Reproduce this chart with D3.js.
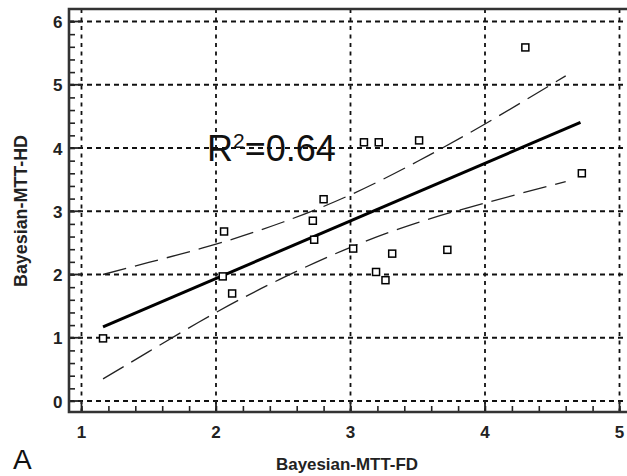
<!DOCTYPE html>
<html>
<head>
<meta charset="utf-8">
<script src="https://cdn.jsdelivr.net/npm/d3@7"></script>
<style>
  html, body { margin: 0; padding: 0; background: #fff; }
  svg { display: block; }
</style>
</head>
<body>
<svg id="chart" width="627" height="476"></svg>
<script>
// Bayesian MTT: full-dose (FD) vs half-dose (HD) estimates
const fdValues = [1.16, 2.05, 2.12, 2.06, 2.73, 2.72, 2.80, 3.10, 3.21, 3.51, 4.30, 4.72, 3.02, 3.31, 3.72, 3.19, 3.26];
const hdValues = [0.99, 1.97, 1.70, 2.68, 2.55, 2.85, 3.19, 4.09, 4.09, 4.12, 5.59, 3.60, 2.41, 2.33, 2.39, 2.04, 1.91];

// Linear fit (intercept, slope) and the x span it is drawn over
const fitCoef = [0.118, 0.910];
const fitRange = [1.16, 4.71];

// 95% confidence band of the fit
const bandX     = [1.16, 1.5, 2.0, 2.5, 3.0, 3.5, 4.0, 4.6];
const bandUpper = [2.00, 2.19, 2.48, 2.83, 3.26, 3.79, 4.38, 5.14];
const bandLower = [0.35, 0.78, 1.40, 1.95, 2.43, 2.82, 3.13, 3.47];

const xTicks = [1, 2, 3, 4, 5];
const yTicks = [0, 1, 2, 3, 4, 5, 6];
const xTitle = "Bayesian-MTT-FD";
const yTitle = "Bayesian-MTT-HD";
const panelLabel = "A";
const r2Value = "0.64";

const svg = d3.select("#chart");

// plot frame
const frame = { left: 69, right: 628, top: 9, bottom: 412 };

const x = d3.scaleLinear().domain([1, 5]).range([81.5, 619.5]);
const y = d3.scaleLinear().domain([0, 6]).range([401, 21.5]);

const ink = "#111";

// grid lines
const grid = svg.append("g");
grid.selectAll("line.hg").data(yTicks).join("line")
  .attr("x1", frame.left).attr("x2", frame.right)
  .attr("y1", d => y(d)).attr("y2", d => y(d))
  .attr("stroke", ink).attr("stroke-width", 1.8)
  .attr("stroke-dasharray", "5,4");
grid.selectAll("line.vg").data(xTicks).join("line")
  .attr("y1", frame.top).attr("y2", frame.bottom)
  .attr("x1", d => x(d)).attr("x2", d => x(d))
  .attr("stroke", ink).attr("stroke-width", 1.8)
  .attr("stroke-dasharray", "4,4.5");

// axes with inward ticks
const xMinor = d3.range(1, 5.0001, 0.2);
const yMinor = d3.range(0, 6.0001, 0.2);

const xAxis = d3.axisBottom(x).tickValues(xMinor).tickSize(-6).tickFormat("");
const yAxis = d3.axisLeft(y).tickValues(yMinor).tickSize(-6).tickFormat("");

const gx = svg.append("g").attr("transform", `translate(0,${frame.bottom})`).call(xAxis);
const gy = svg.append("g").attr("transform", `translate(${frame.left},0)`).call(yAxis);
[gx, gy].forEach(g => {
  g.select(".domain").remove();
  g.selectAll(".tick line").attr("stroke", "#222").attr("stroke-width", 1.6);
});

// major ticks (solid, longer)
svg.append("g").selectAll("line").data(xTicks).join("line")
  .attr("x1", d => x(d)).attr("x2", d => x(d))
  .attr("y1", frame.bottom).attr("y2", y(0))
  .attr("stroke", "#222").attr("stroke-width", 1.8);
svg.append("g").selectAll("line").data(yTicks).join("line")
  .attr("x1", frame.left).attr("x2", x(1))
  .attr("y1", d => y(d)).attr("y2", d => y(d))
  .attr("stroke", "#222").attr("stroke-width", 1.8);

// frame
svg.append("path")
  .attr("d", `M${frame.right},${frame.top}H${frame.left}V${frame.bottom}H${frame.right}`)
  .attr("fill", "none").attr("stroke", "#333").attr("stroke-width", 2.6);

// tick labels
const tickFont = "'Liberation Sans Narrow','Arial Narrow','Liberation Sans',Arial,sans-serif";
svg.append("g").selectAll("text").data(xTicks).join("text")
  .attr("x", d => x(d)).attr("y", 438)
  .attr("text-anchor", "middle")
  .attr("font-family", tickFont).attr("font-weight", "bold").attr("font-size", 17)
  .attr("fill", "#222")
  .text(d => d);
svg.append("g").selectAll("text").data(yTicks).join("text")
  .attr("x", 62.5).attr("y", d => y(d) + 6.5)
  .attr("text-anchor", "end")
  .attr("font-family", tickFont).attr("font-weight", "bold").attr("font-size", 17)
  .attr("fill", "#222")
  .text(d => d);

// axis titles
svg.append("text")
  .attr("x", 347).attr("y", 470)
  .attr("text-anchor", "middle")
  .attr("font-family", "'Liberation Sans',Arial,sans-serif").attr("font-weight", "bold").attr("font-size", 17)
  .attr("textLength", 142).attr("lengthAdjust", "spacingAndGlyphs")
  .attr("fill", "#222")
  .text(xTitle);
svg.append("text")
  .attr("transform", "translate(27,211) rotate(-90)")
  .attr("text-anchor", "middle")
  .attr("font-family", "'Liberation Sans',Arial,sans-serif").attr("font-weight", "bold").attr("font-size", 18)
  .attr("textLength", 152).attr("lengthAdjust", "spacingAndGlyphs")
  .attr("fill", "#222")
  .text(yTitle);

// panel label
svg.append("text")
  .attr("x", 13).attr("y", 469)
  .attr("font-family", "'Liberation Sans',Arial,sans-serif").attr("font-size", 28)
  .attr("fill", "#111")
  .text(panelLabel);

// confidence band
const band = d3.line().x(d => x(d[0])).y(d => y(d[1])).curve(d3.curveNatural);
[bandUpper, bandLower].forEach(vals => {
  svg.append("path")
    .attr("d", band(bandX.map((bx, i) => [bx, vals[i]])))
    .attr("fill", "none").attr("stroke", "#222").attr("stroke-width", 1.3)
    .attr("stroke-dasharray", "24,9");
});

// regression line
const fitPts = fitRange.map(fx => [fx, fitCoef[0] + fitCoef[1] * fx]);
svg.append("path")
  .attr("d", d3.line().x(d => x(d[0])).y(d => y(d[1]))(fitPts))
  .attr("fill", "none").attr("stroke", "#000").attr("stroke-width", 3);

// data points: open squares
const sq = 7;
svg.append("g").selectAll("rect").data(fdValues.map((fx, i) => [fx, hdValues[i]])).join("rect")
  .attr("x", d => x(d[0]) - sq / 2).attr("y", d => y(d[1]) - sq / 2)
  .attr("width", sq).attr("height", sq)
  .attr("fill", "#fff").attr("stroke", "#000").attr("stroke-width", 1.5);

// coefficient of determination
const r2 = svg.append("text")
  .attr("x", 207).attr("y", 161)
  .attr("font-family", "'Liberation Sans',Arial,sans-serif").attr("font-size", 36)
  .attr("fill", "#111");
r2.append("tspan").text("R");
r2.append("tspan").attr("font-size", 21).attr("dy", -13).text("2");
r2.append("tspan").attr("dy", 13).text("=" + r2Value);
</script>
</body>
</html>
